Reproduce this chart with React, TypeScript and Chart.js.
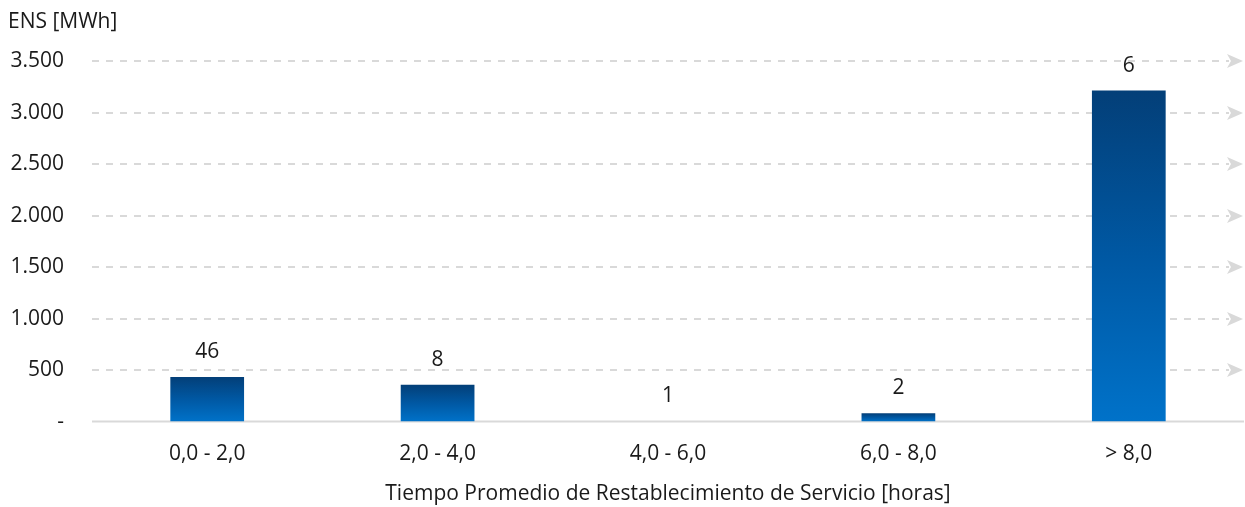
import React, { useEffect, useRef } from "react";
import { Chart, registerables } from "chart.js";

Chart.register(...registerables);

const categories = ["0,0 - 2,0", "2,0 - 4,0", "4,0 - 6,0", "6,0 - 8,0", "> 8,0"];
const ensValues = [434, 357, 2, 80, 3215];
const countLabels = ["46", "8", "1", "2", "6"];
const yMax = 3500;
const yStep = 500;
const yAxisLabel = "ENS [MWh]";
const xAxisLabel = "Tiempo Promedio de Restablecimiento de Servicio [horas]";

const FONT = "'Open Sans', sans-serif";
const FS = 21;
const GRID = "#d9d9d9";
const TEXT = "#1a1a1a";

function fmt(v: number): string {
  if (v === 0) return "-";
  return String(v).replace(/\B(?=(\d{3})+(?!\d))/g, ".");
}

const gridPlugin = {
  id: "arrowGrid",
  beforeDatasetsDraw(chart: any) {
    const { ctx, chartArea, scales } = chart;
    const y = scales.y;
    const right = chartArea.right - 1;
    ctx.save();
    y.ticks.forEach((t: any) => {
      if (t.value === 0) return;
      const py = Math.round(y.getPixelForValue(t.value));
      ctx.strokeStyle = GRID;
      ctx.lineWidth = 2;
      ctx.setLineDash([7, 7]);
      ctx.beginPath();
      ctx.moveTo(chartArea.left, py);
      ctx.lineTo(right - 14, py);
      ctx.stroke();
      ctx.setLineDash([]);
      ctx.fillStyle = GRID;
      ctx.beginPath();
      ctx.moveTo(right, py);
      ctx.lineTo(right - 16, py - 7);
      ctx.lineTo(right - 12, py);
      ctx.lineTo(right - 16, py + 7);
      ctx.closePath();
      ctx.fill();
    });
    const by = y.getPixelForValue(0);
    ctx.strokeStyle = GRID;
    ctx.lineWidth = 2;
    ctx.beginPath();
    ctx.moveTo(chartArea.left, by);
    ctx.lineTo(chartArea.right, by);
    ctx.stroke();
    ctx.restore();
  },
  afterDatasetsDraw(chart: any) {
    const { ctx } = chart;
    const meta = chart.getDatasetMeta(0);
    ctx.save();
    ctx.fillStyle = TEXT;
    ctx.font = `${FS}px ${FONT}`;
    ctx.textAlign = "center";
    ctx.textBaseline = "middle";
    meta.data.forEach((el: any, i: number) => {
      ctx.fillText(countLabels[i], el.x, el.y - 25);
    });
    ctx.restore();
  },
};

export default function App() {
  const ref = useRef<HTMLCanvasElement | null>(null);
  useEffect(() => {
    document.body.style.margin = "0";
    const canvas = ref.current!;
    const chart = new Chart(canvas, {
      type: "bar",
      data: {
        labels: categories,
        datasets: [
          {
            data: ensValues,
            categoryPercentage: 1,
            barPercentage: 0.32,
            backgroundColor: (c: any) => {
              const ch = c.chart;
              const y = ch.scales?.y;
              if (!y || c.type !== "data") return "#0060b0";
              const top = y.getPixelForValue(c.raw);
              const base = y.getPixelForValue(0);
              if (!isFinite(top) || !isFinite(base) || base - top < 1) return "#0060b0";
              const g = ch.ctx.createLinearGradient(0, top, 0, base);
              g.addColorStop(0, "#033f78");
              g.addColorStop(0.5, "#0058a3");
              g.addColorStop(1, "#0072c9");
              return g;
            },
          },
        ],
      },
      options: {
        animation: false,
        responsive: true,
        maintainAspectRatio: false,
        layout: { padding: { left: 8, right: 1, top: 0, bottom: 0 } },
        plugins: {
          legend: { display: false },
          tooltip: { enabled: false },
          title: {
            display: true,
            text: yAxisLabel,
            align: "start",
            color: TEXT,
            font: { family: FONT, size: FS, weight: "normal" },
            padding: { top: 9, bottom: 27 },
          },
        },
        scales: {
          x: {
            grid: { display: false, drawTicks: false },
            border: { display: false },
            ticks: { color: TEXT, font: { family: FONT, size: FS }, padding: 20 },
            title: {
              display: true,
              text: xAxisLabel,
              color: TEXT,
              font: { family: FONT, size: FS },
              padding: { top: -5, bottom: 0 },
            },
          },
          y: {
            min: 0,
            max: yMax,
            grid: { display: false, drawTicks: false },
            border: { display: false },
            afterFit: (s: any) => {
              s.width = 84;
            },
            ticks: {
              stepSize: yStep,
              color: TEXT,
              font: { family: FONT, size: FS },
              padding: 28,
              callback: (v: any) => fmt(Number(v)),
            },
          },
        },
      },
      plugins: [gridPlugin],
    });
    return () => chart.destroy();
  }, []);
  return (
    <div style={{ position: "absolute", left: 0, top: 0, width: 1245, height: 507 }}>
      <canvas ref={ref} />
    </div>
  );
}
